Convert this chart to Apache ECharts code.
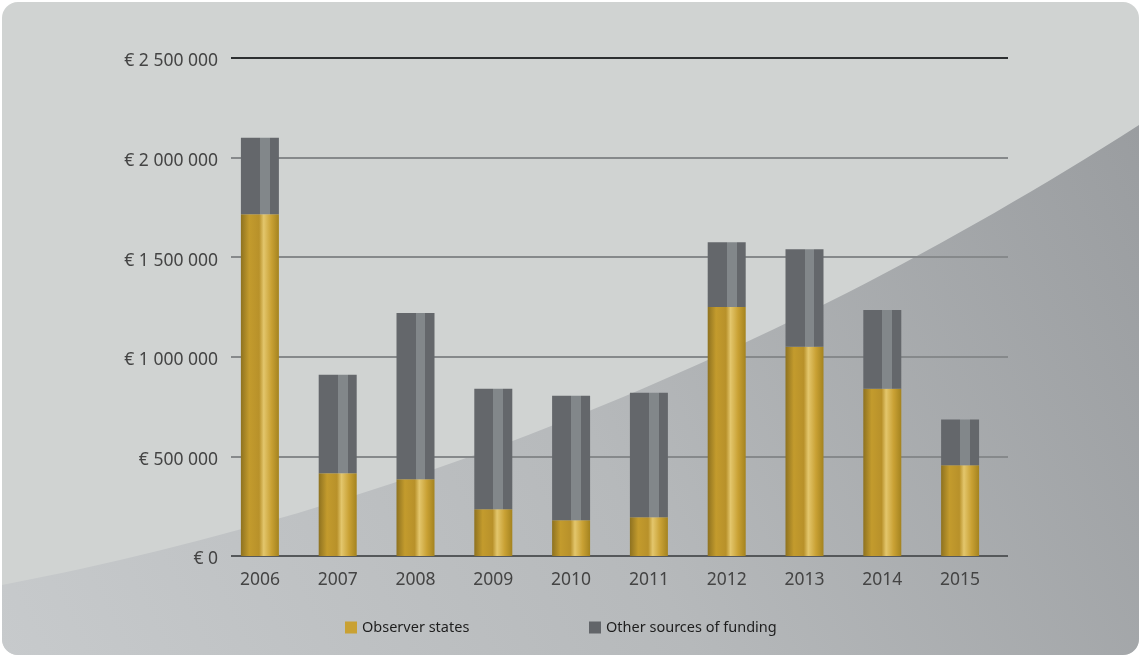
<!DOCTYPE html>
<html>
<head>
<meta charset="utf-8">
<style>
  html, body { margin: 0; padding: 0; background: #ffffff; }
  #chart { width: 1141px; height: 657px; }
</style>
<script src="https://cdn.jsdelivr.net/npm/echarts@6/dist/echarts.min.js"></script>
</head>
<body>
<div id="chart"></div>
<script>
// Funding per year, split by source (EUR)
const years = ['2006', '2007', '2008', '2009', '2010', '2011', '2012', '2013', '2014', '2015'];
const observerStates = [1715000, 415000, 385000, 235000, 180000, 195000, 1250000, 1050000, 840000, 455000];
const otherSources   = [385000, 495000, 835000, 605000, 625000, 625000, 325000, 490000, 395000, 230000];
const seriesNames = ['Observer states', 'Other sources of funding'];
const yTicks = [0, 500000, 1000000, 1500000, 2000000, 2500000];

const W = 1141, H = 657;
const chart = echarts.init(document.getElementById('chart'), null, { renderer: 'canvas' });

function euro(v) {
  return '€ ' + String(v).replace(/\B(?=(\d{3})+(?!\d))/g, ' ');
}
function gradient(x, y, x2, y2, stops) {
  return { type: 'linear', x: x, y: y, x2: x2, y2: y2, colorStops: stops };
}

const goldFill = gradient(0, 0, 1, 0, [
  { offset: 0.00, color: '#8e7220' },
  { offset: 0.22, color: '#c39b2d' },
  { offset: 0.48, color: '#b8912a' },
  { offset: 0.60, color: '#e3c66c' },
  { offset: 0.80, color: '#c9a134' },
  { offset: 1.00, color: '#a4831f' }
]);
const greyFill = gradient(0, 0, 1, 0, [
  { offset: 0.00, color: '#64676b' },
  { offset: 0.50, color: '#64676b' },
  { offset: 0.50, color: '#82878a' },
  { offset: 0.76, color: '#82878a' },
  { offset: 0.76, color: '#64676b' },
  { offset: 1.00, color: '#64676b' }
]);

// Panel geometry and the darker swept band across its lower right
const r = 16, x0 = 2, y0 = 2, x1 = W - 2, y1 = H - 2;
function sweepPoints() {
  const pts = [];
  const P0 = [x0, 585], C = [600, 470], P2 = [x1, 125];
  for (let i = 0; i <= 60; i++) {
    const t = i / 60, a = (1 - t) * (1 - t), b = 2 * t * (1 - t), c = t * t;
    pts.push([a * P0[0] + b * C[0] + c * P2[0], a * P0[1] + b * C[1] + c * P2[1]]);
  }
  // bottom-right rounded corner
  for (let i = 0; i <= 10; i++) {
    const ang = (i / 10) * Math.PI / 2;
    pts.push([x1 - r + r * Math.cos(ang), y1 - r + r * Math.sin(ang)]);
  }
  // bottom-left rounded corner
  for (let i = 0; i <= 10; i++) {
    const ang = Math.PI / 2 + (i / 10) * Math.PI / 2;
    pts.push([x0 + r + r * Math.cos(ang), y1 - r + r * Math.sin(ang)]);
  }
  return pts;
}

const legendText = { fontFamily: 'Noto Sans', fontSize: 14.5, color: '#1e1e1e' };

const option = {
  backgroundColor: '#ffffff',
  animation: false,
  color: ['#c9a133', '#626569'],
  graphic: [
    {
      type: 'rect', z: -10, silent: true,
      shape: { x: x0, y: y0, width: x1 - x0, height: y1 - y0, r: r },
      style: { fill: '#d0d3d2' }
    },
    {
      type: 'polygon', z: -9, silent: true,
      shape: { points: sweepPoints() },
      style: {
        fill: gradient(1, 0, 0, 1, [
          { offset: 0, color: '#9a9da0' },
          { offset: 0.5, color: '#b6b9bb' },
          { offset: 1, color: '#c7cacc' }
        ])
      }
    }
  ],
  legend: [
    {
      data: [{ name: seriesNames[0], itemStyle: { color: '#c9a133' } }],
      left: 345, top: 620, padding: 0, icon: 'rect', itemWidth: 12, itemHeight: 12,
      textStyle: legendText
    },
    {
      data: [{ name: seriesNames[1], itemStyle: { color: '#626569' } }],
      left: 589, top: 620, padding: 0, icon: 'rect', itemWidth: 12, itemHeight: 12,
      textStyle: legendText
    }
  ],
  grid: [
    { left: 231, right: W - 1008, top: 58, bottom: H - 556 },
    { left: 221, width: 778, top: 58, bottom: H - 556 }
  ],
  xAxis: [
    { gridIndex: 0, type: 'value', show: false, min: 0, max: 1 },
    {
      gridIndex: 1, type: 'category', data: years,
      axisLine: { show: false }, axisTick: { show: false },
      axisLabel: { margin: 15, fontFamily: 'Noto Sans', fontSize: 17.5, color: '#444444' }
    }
  ],
  yAxis: [
    {
      gridIndex: 0, type: 'value', min: yTicks[0], max: yTicks[yTicks.length - 1], interval: 500000,
      axisLine: { show: false }, axisTick: { show: false },
      axisLabel: {
        margin: 13, fontFamily: 'Noto Sans', fontSize: 17.5, color: '#444444',
        verticalAlign: 'top', lineHeight: 7, formatter: euro
      },
      splitLine: {
        lineStyle: { width: 1.8, color: ['#55585a', '#86898b', '#86898b', '#86898b', '#86898b', '#2c2f31'] }
      }
    },
    {
      gridIndex: 1, type: 'value', min: yTicks[0], max: yTicks[yTicks.length - 1], interval: 500000,
      show: false
    }
  ],
  series: [
    {
      name: seriesNames[0], type: 'bar', stack: 'total',
      xAxisIndex: 1, yAxisIndex: 1, barWidth: 38,
      data: observerStates,
      itemStyle: { color: goldFill }
    },
    {
      name: seriesNames[1], type: 'bar', stack: 'total',
      xAxisIndex: 1, yAxisIndex: 1, barWidth: 38,
      data: otherSources,
      itemStyle: { color: greyFill }
    }
  ]
};

chart.setOption(option);
</script>
</body>
</html>
